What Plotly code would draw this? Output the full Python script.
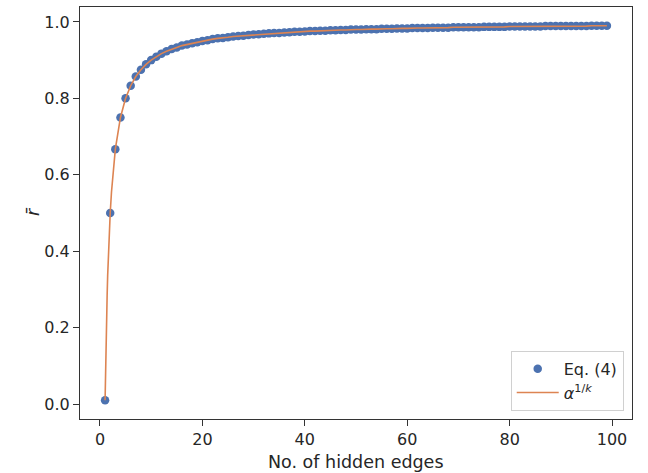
import plotly.graph_objects as go

k_vals = list(range(1, 100))
eq4_vals = [
    0.010, 0.500, 0.667, 0.750, 0.800, 0.833, 0.857, 0.875, 0.889, 0.900,
    0.909, 0.917, 0.923, 0.929, 0.933, 0.938, 0.941, 0.944, 0.947, 0.950,
    0.952, 0.955, 0.957, 0.958, 0.960, 0.962, 0.963, 0.964, 0.966, 0.967,
    0.968, 0.969, 0.970, 0.971, 0.971, 0.972, 0.973, 0.974, 0.974, 0.975,
    0.976, 0.976, 0.977, 0.977, 0.978, 0.978, 0.979, 0.979, 0.980, 0.980,
    0.980, 0.981, 0.981, 0.981, 0.982, 0.982, 0.982, 0.983, 0.983, 0.983,
    0.984, 0.984, 0.984, 0.984, 0.985, 0.985, 0.985, 0.985, 0.986, 0.986,
    0.986, 0.986, 0.986, 0.986, 0.987, 0.987, 0.987, 0.987, 0.987, 0.988,
    0.988, 0.988, 0.988, 0.988, 0.988, 0.988, 0.989, 0.989, 0.989, 0.989,
    0.989, 0.989, 0.989, 0.989, 0.989, 0.990, 0.990, 0.990, 0.990,
]

# fine-sampled start of the alpha^(1/k) curve
line_head_x = [1.0, 1.05, 1.1, 1.2, 1.3, 1.4, 1.5, 1.6, 1.7, 1.8, 1.9, 2.0, 2.25, 2.5, 2.75]
line_head_y = [0.010, 0.060, 0.100, 0.170, 0.230, 0.285, 0.335, 0.375, 0.410, 0.445, 0.475, 0.500, 0.555, 0.600, 0.636]
line_x = line_head_x + k_vals[2:]
line_y = line_head_y + eq4_vals[2:]

x_ticks = [0, 20, 40, 60, 80, 100]
y_ticks = [0.0, 0.2, 0.4, 0.6, 0.8, 1.0]
x_title = "No. of hidden edges"
y_title = "<i>r̄</i>"

BLUE = "#4c72b0"
ORANGE = "#dd8452"
FRAME = "#333333"
TEXT = "#262626"
FONT = "DejaVu Sans"

W, H = 648, 473
ML, MR, MT, MB = 80, 16, 7, 54

fig = go.Figure()
fig.add_trace(go.Scatter(
    x=k_vals, y=eq4_vals, mode="markers", name="Eq. (4)",
    marker=dict(color=BLUE, size=8.5, line=dict(width=0)),
))
fig.add_trace(go.Scatter(
    x=line_x, y=line_y, mode="lines", name="<i>α</i><sup>1/<i>k</i></sup>",
    line=dict(color=ORANGE, width=1.6),
))

axis_common = dict(
    showgrid=False, zeroline=False, showline=True, mirror=True,
    linecolor=FRAME, linewidth=1.25, ticks="outside", ticklen=6,
    tickwidth=1.25, tickcolor=FRAME, automargin=False,
    tickfont=dict(family=FONT, size=16, color=TEXT),
)

fig.update_layout(
    width=W, height=H,
    margin=dict(l=ML, r=MR, t=MT, b=MB),
    paper_bgcolor="white", plot_bgcolor="white",
    font=dict(family=FONT, size=16, color=TEXT),
    showlegend=True,
    legend=dict(
        x=0.985, y=0.02, xanchor="right", yanchor="bottom",
        bgcolor="rgba(255,255,255,0.8)", bordercolor="#d0d0d0", borderwidth=1,
        font=dict(family=FONT, size=16, color=TEXT),
        tracegroupgap=0, itemwidth=42,
    ),
    xaxis=dict(range=[-3.9, 103.9], tickvals=x_ticks, **axis_common),
    yaxis=dict(range=[-0.039, 1.039], tickvals=y_ticks, tickformat=".1f", **axis_common),
)

fig.add_annotation(
    text=x_title, xref="paper", yref="paper",
    x=0.5, y=-(462 - (H - MB)) / (H - MT - MB),
    xanchor="center", yanchor="middle", showarrow=False,
    font=dict(family=FONT, size=17.5, color=TEXT),
)
fig.add_annotation(
    text=y_title, xref="paper", yref="paper",
    x=-(ML - 33) / (W - ML - MR), y=1 - (212 - MT) / (H - MT - MB),
    xanchor="center", yanchor="middle", showarrow=False, textangle=-90,
    font=dict(family=FONT, size=17.5, color=TEXT),
)

fig.write_html(
    "out.html",
    config={"displayModeBar": False},
    post_script="document.body.style.margin='0';document.body.style.overflow='hidden';",
)
